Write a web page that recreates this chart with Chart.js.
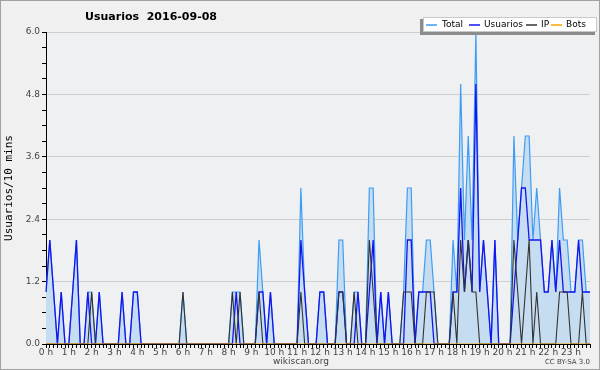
<!DOCTYPE html>
<html>
<head>
<meta charset="utf-8">
<script src="https://cdn.jsdelivr.net/npm/chart.js@4.4.0/dist/chart.umd.min.js"></script>
<style>
html, body { margin: 0; padding: 0; background: #f0f0f0; }
#wrap { width: 600px; height: 370px; position: relative; }
</style>
</head>
<body>
<div id="wrap"><canvas id="chart"></canvas></div>
<script>
const hourLabels = ['0 h','1 h','2 h','3 h','4 h','5 h','6 h','7 h','8 h','9 h','10 h','11 h',
                    '12 h','13 h','14 h','15 h','16 h','17 h','18 h','19 h','20 h','21 h','22 h','23 h'];

// una muestra cada 10 minutos
const total = [
    1,2,1,0,1,0,0,1,2,0,0,1,
    1,0,1,0,0,0,0,0,1,0,0,1,
    1,0,0,0,0,0,0,0,0,0,0,0,
    1,0,0,0,0,0,0,0,0,0,0,0,
    0,1,1,1,0,0,0,0,2,1,0,1,
    0,0,0,0,0,0,0,3,1,0,0,0,
    1,1,0,0,0,2,2,0,0,1,1,0,
    0,3,3,0,1,0,1,0,0,0,1,3,
    3,0,1,1,2,2,1,0,0,0,0,2,
    1,5,2,4,2,6,1,2,1,0,2,0,
    0,0,0,4,2,3,4,4,2,3,2,1,
    1,2,1,3,2,2,1,1,2,2,1,1
];
const usuarios = [
    1,2,1,0,1,0,0,1,2,0,0,1,
    0,0,1,0,0,0,0,0,1,0,0,1,
    1,0,0,0,0,0,0,0,0,0,0,0,
    0,0,0,0,0,0,0,0,0,0,0,0,
    0,0,1,0,0,0,0,0,1,1,0,1,
    0,0,0,0,0,0,0,2,1,0,0,0,
    1,1,0,0,0,1,1,0,0,0,1,0,
    0,1,2,0,1,0,1,0,0,0,0,2,
    2,0,1,1,1,1,0,0,0,0,0,1,
    1,3,1,2,1,5,1,2,1,0,2,0,
    0,0,0,1,2,3,3,2,2,2,2,1,
    1,2,1,2,1,1,1,1,2,1,1,1
];
const ip = [
    0,0,0,0,0,0,0,0,0,0,0,0,
    1,0,0,0,0,0,0,0,0,0,0,0,
    0,0,0,0,0,0,0,0,0,0,0,0,
    1,0,0,0,0,0,0,0,0,0,0,0,
    0,1,0,1,0,0,0,0,1,0,0,0,
    0,0,0,0,0,0,0,1,0,0,0,0,
    0,0,0,0,0,1,1,0,0,1,0,0,
    0,2,1,0,0,0,0,0,0,0,1,1,
    1,0,0,0,1,1,1,0,0,0,0,1,
    0,2,1,2,1,1,0,0,0,0,0,0,
    0,0,0,2,1,0,1,2,0,1,0,0,
    0,0,0,1,1,1,0,0,0,1,0,0
];
const bots = new Array(144).fill(0);

const seriesNames = ['Total', 'Usuarios', 'IP', 'Bots'];
const seriesColors = ['#3d9cf5', '#1414f0', '#333333', '#ffa500'];

let labels = [];
for (let h = 0; h < 24; h++) {
    for (let m = 0; m < 6; m++) labels.push(m === 0 ? hourLabels[h] : '');
}

const fondo = {
    id: 'fondo',
    beforeDraw(chart) {
        const c = chart.ctx;
        c.save();
        c.fillStyle = '#f0f0f0';
        c.fillRect(0, 0, chart.width, chart.height);
        const a = chart.chartArea;
        c.fillStyle = '#eef0f2';
        c.fillRect(a.left, a.top, a.right - a.left, a.bottom - a.top);
        c.restore();
    },
    afterDraw(chart) {
        const c = chart.ctx;
        c.save();
        // titulo
        c.fillStyle = '#000';
        c.font = "bold 11px 'DejaVu Sans'";
        c.textAlign = 'center';
        c.textBaseline = 'middle';
        c.fillText('Usuarios  2016-09-08', 151, 17);

        // leyenda
        c.fillStyle = '#8c8c8c';
        c.fillRect(420, 19, 3, 16);
        c.fillRect(420, 32, 175, 3);
        c.fillStyle = '#fff';
        c.fillRect(423, 17, 174, 15);
        c.strokeStyle = '#c8c8c8';
        c.lineWidth = 1;
        c.strokeRect(423.5, 17.5, 173, 14);
        c.font = "9px 'DejaVu Sans'";
        c.textAlign = 'left';
        const pos = [[426, 442], [469, 484], [526, 541], [551, 566]];
        seriesNames.forEach((n, i) => {
            c.strokeStyle = seriesColors[i];
            c.lineWidth = 1.5;
            c.beginPath();
            c.moveTo(pos[i][0], 25);
            c.lineTo(pos[i][0] + 11, 25);
            c.stroke();
            c.fillStyle = '#000';
            c.fillText(n, pos[i][1], 25);
        });

        // pie
        c.fillStyle = '#444';
        c.font = "9px 'DejaVu Sans'";
        c.textAlign = 'center';
        c.fillText('wikiscan.org', 301, 362);
        c.font = "7px 'DejaVu Sans'";
        c.textAlign = 'right';
        c.fillText('CC BY-SA 3.0', 590, 362);

        c.strokeStyle = '#a0a0a0';
        c.lineWidth = 1;
        c.strokeRect(0.5, 0.5, chart.width - 1, chart.height - 1);
        c.restore();
    }
};

Chart.defaults.font.family = "'DejaVu Sans', sans-serif";
Chart.defaults.color = '#333';

new Chart(document.getElementById('chart').getContext('2d'), {
    type: 'line',
    data: {
        labels: labels,
        datasets: [
            { label: 'Bots', data: bots, borderColor: seriesColors[3], borderWidth: 1.2, pointRadius: 0, tension: 0, fill: false },
            { label: 'IP', data: ip, borderColor: seriesColors[2], borderWidth: 1.1, pointRadius: 0, tension: 0, fill: false },
            { label: 'Usuarios', data: usuarios, borderColor: seriesColors[1], borderWidth: 1.3, pointRadius: 0, tension: 0, fill: false },
            { label: 'Total', data: total, borderColor: seriesColors[0], backgroundColor: '#c6dcf0', borderWidth: 1.2, pointRadius: 0, tension: 0, fill: 'origin' }
        ]
    },
    options: {
        responsive: true, maintainAspectRatio: false, animation: false,
        layout: { padding: { left: 0, right: 10, top: 32, bottom: 0 } },
        plugins: { legend: { display: false }, title: { display: false }, tooltip: { enabled: false } },
        scales: {
            x: {
                type: 'category', offset: false, z: 1,
                border: { color: '#000', width: 1 },
                grid: { drawOnChartArea: false, drawTicks: true, tickLength: 4, tickColor: '#000' },
                ticks: { autoSkip: false, maxRotation: 0, minRotation: 0, padding: -1, color: '#444', font: { size: 9 } },
                afterFit: s => { s.height = 26; }
            },
            y: {
                min: 0, max: 6,
                border: { color: '#000', width: 1 },
                grid: {
                    tickLength: 4, tickColor: '#000',
                    color: ctx => {
                        const v = Math.round(ctx.tick.value * 10) / 10;
                        return Math.abs(v / 1.2 - Math.round(v / 1.2)) < 1e-6 ? '#cfcfcf' : 'rgba(0,0,0,0)';
                    }
                },
                ticks: {
                    stepSize: 0.3, padding: 2, color: '#444', font: { size: 9 },
                    callback: value => {
                        const v = Math.round(value * 10) / 10;
                        return Math.abs(v / 1.2 - Math.round(v / 1.2)) < 1e-6 ? v.toFixed(1) : '';
                    }
                },
                title: { display: true, text: 'Usuarios/10 mins', color: '#000', font: { family: "'DejaVu Sans Mono', monospace", size: 11 }, padding: { top: 3, bottom: 0 } },
                afterFit: s => { s.width = 46; }
            }
        }
    },
    plugins: [fondo]
});
</script>
</body>
</html>
